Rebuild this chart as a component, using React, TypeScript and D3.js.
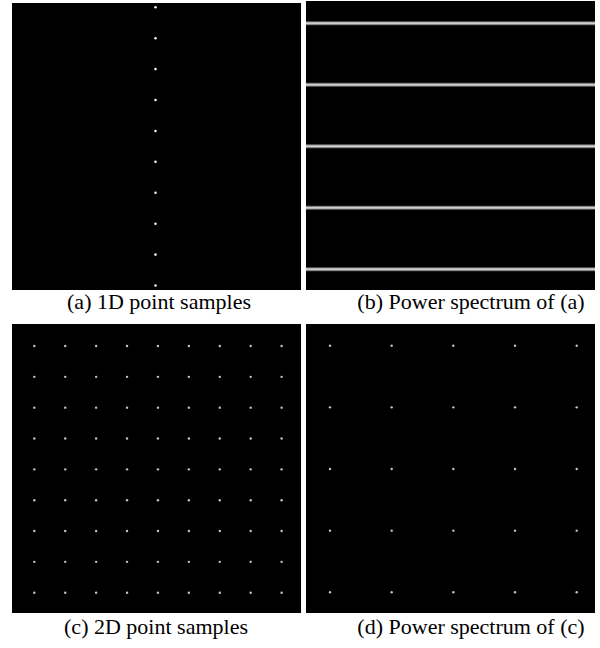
import React, { useEffect, useRef } from 'react';
import * as d3 from 'd3';

// sample indices / grid indices
const samples1D = [0, 1, 2, 3, 4, 5, 6, 7, 8, 9];
const spectrumLines1D = [0, 1, 2, 3, 4];
const grid2D = [0, 1, 2, 3, 4, 5, 6, 7, 8];
const spectrumGrid2D = [0, 1, 2, 3, 4];
const captions = [
  '(a) 1D point samples',
  '(b) Power spectrum of (a)',
  '(c) 2D point samples',
  '(d) Power spectrum of (c)',
];

export default function App() {
  const ref = useRef<SVGSVGElement | null>(null);

  useEffect(() => {
    const svg = d3.select(ref.current);
    svg.selectAll('*').remove();

    const panels = [
      { x: 12, y: 3, w: 289, h: 287 },
      { x: 306, y: 1, w: 289, h: 289 },
      { x: 12, y: 324, w: 289, h: 289 },
      { x: 306, y: 324, w: 289, h: 289 },
    ];
    svg.selectAll('rect.panel').data(panels).enter().append('rect')
      .attr('class', 'panel')
      .attr('x', d => d.x).attr('y', d => d.y)
      .attr('width', d => d.w).attr('height', d => d.h)
      .attr('fill', '#000');

    // (a) one column of samples
    const yA = d3.scaleLinear().domain([0, 9]).range([7.3, 285.5]);
    svg.append('g').selectAll('circle').data(samples1D).enter().append('circle')
      .attr('cx', 155.5).attr('cy', d => yA(d)).attr('r', 1.3)
      .attr('fill', '#f0f0f0');

    // (b) horizontal spectrum lines
    const yB = d3.scaleLinear().domain([0, 4]).range([23.3, 269.3]);
    const gB = svg.append('g');
    gB.selectAll('line.outer').data(spectrumLines1D).enter().append('line')
      .attr('class', 'outer')
      .attr('x1', 306).attr('x2', 595)
      .attr('y1', d => yB(d)).attr('y2', d => yB(d))
      .attr('stroke', '#6a6a6a').attr('stroke-width', 4);
    gB.selectAll('line.inner').data(spectrumLines1D).enter().append('line')
      .attr('class', 'inner')
      .attr('x1', 306).attr('x2', 595)
      .attr('y1', d => yB(d)).attr('y2', d => yB(d))
      .attr('stroke', '#cfcfcf').attr('stroke-width', 2);

    // (c) 9x9 grid
    const xC = d3.scaleLinear().domain([0, 8]).range([34.3, 281.6]);
    const yC = d3.scaleLinear().domain([0, 8]).range([346, 592.7]);
    const cellsC = d3.cross(grid2D, grid2D);
    svg.append('g').selectAll('circle').data(cellsC).enter().append('circle')
      .attr('cx', d => xC(d[0])).attr('cy', d => yC(d[1])).attr('r', 1.2)
      .attr('fill', '#c4c4c4');

    // (d) 5x5 grid
    const xD = d3.scaleLinear().domain([0, 4]).range([330, 576.7]);
    const yD = d3.scaleLinear().domain([0, 4]).range([345.7, 592.3]);
    const cellsD = d3.cross(spectrumGrid2D, spectrumGrid2D);
    svg.append('g').selectAll('circle').data(cellsD).enter().append('circle')
      .attr('cx', d => xD(d[0])).attr('cy', d => yD(d[1])).attr('r', 1.2)
      .attr('fill', '#c4c4c4');

    const capPos = [
      { x: 159, y: 309 },
      { x: 471, y: 309 },
      { x: 156, y: 634 },
      { x: 471, y: 634 },
    ];
    svg.selectAll('text.cap').data(captions).enter().append('text')
      .attr('class', 'cap')
      .attr('x', (d, i) => capPos[i].x).attr('y', (d, i) => capPos[i].y)
      .attr('text-anchor', 'middle')
      .attr('font-family', '"Liberation Serif", "Times New Roman", serif')
      .attr('font-size', 22)
      .attr('fill', '#000')
      .text(d => d);
  }, []);

  return (
    <svg ref={ref} width={600} height={648}
      style={{ position: 'absolute', left: 0, top: 0, background: '#fff' }} />
  );
}
